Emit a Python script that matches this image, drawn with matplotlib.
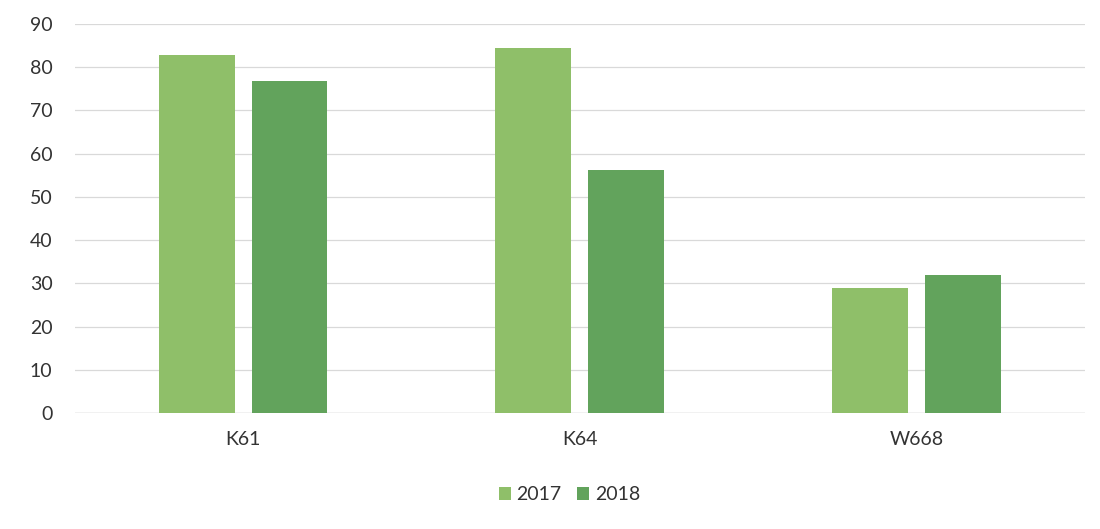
import matplotlib.pyplot as plt
import numpy as np

# -------------- Data --------------
categories = ['K61', 'K64', 'W668']
years = ['2017', '2018']
vals_2017 = [82.9, 84.5, 28.9]
vals_2018 = [76.8, 56.2, 31.9]
# ----------------------------------

plt.rcParams['font.family'] = ['Lato', 'DejaVu Sans']

fig = plt.figure(figsize=(11, 5.29), dpi=100)
ax = fig.add_axes([0.068, 0.219, 0.918, 0.736])

x = np.arange(len(categories))
w = 0.225
off = 0.138
ax.bar(x - off, vals_2017, w, color='#8fbf69', label=years[0], zorder=3)
ax.bar(x + off, vals_2018, w, color='#62a35c', label=years[1], zorder=3)

ax.set_xlim(-0.5, 2.5)
ax.set_ylim(0, 90)
ax.set_yticks(np.arange(0, 91, 10))
ax.set_xticks(x)
ax.set_xticklabels(categories)
ax.yaxis.grid(True, color='#d9d9d9', linewidth=0.9, zorder=0)
for s in ax.spines.values():
    s.set_visible(False)
ax.axhline(0, color='#d0d0d0', linewidth=1, zorder=2)
ax.tick_params(axis='both', length=0, labelsize=14, colors='#333333')
ax.tick_params(axis='x', pad=13)
ax.tick_params(axis='y', pad=16)

ax.legend(loc='center', bbox_to_anchor=(0.49, -0.21), ncol=2, frameon=False,
          fontsize=14, handlelength=0.6, handleheight=0.6, handletextpad=0.3,
          columnspacing=0.8, labelcolor='#333333')

fig.savefig('out.png', dpi=100)
